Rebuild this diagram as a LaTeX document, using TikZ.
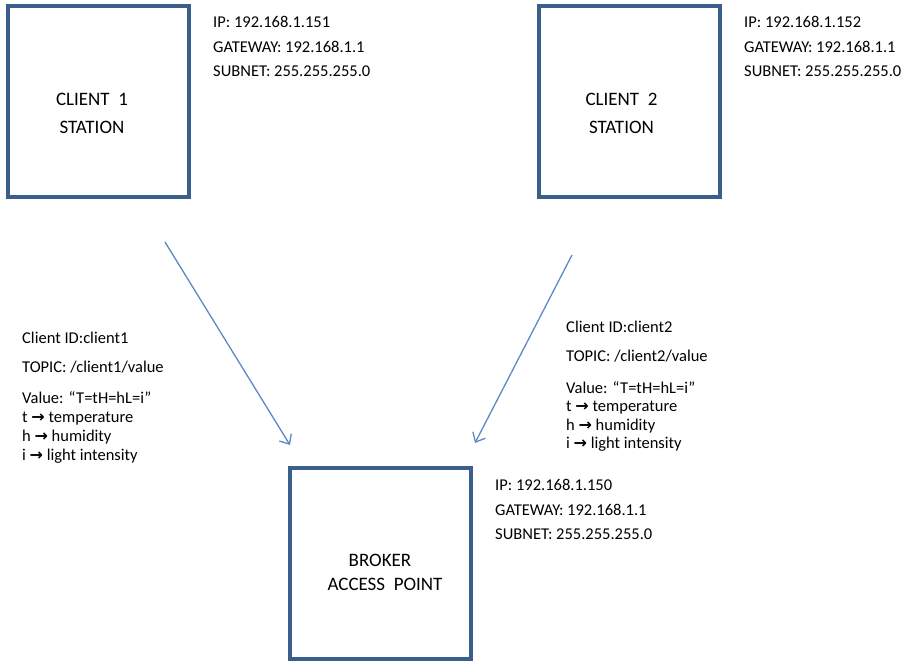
\documentclass[tikz,border=0pt]{standalone}
\usepackage{fontspec}
\setmainfont{Carlito}
\newfontfamily\arrowfont{DejaVu Sans}
\usetikzlibrary{arrows.meta}
\definecolor{boxblue}{HTML}{3A5F8B}
\definecolor{arrowblue}{HTML}{5B8AC6}
\newcommand{\ar}{{\arrowfont\bfseries\fontsize{16}{16}\selectfont →}}
\begin{document}
\begin{tikzpicture}[x=1pt,y=-1pt,
  txt/.style={anchor=base west,inner sep=0pt,font=\fontsize{16.5}{16.5}\selectfont},
  lbl/.style={anchor=base,inner sep=0pt,font=\fontsize{19}{19}\selectfont},
  station/.style={draw=boxblue,line width=3.6pt,rectangle,inner sep=0pt},
  link/.style={draw=arrowblue,line width=1.3pt,-{Straight Barb[length=8pt,width=14pt]}}]
\fill[white] (0,0) rectangle (905,661);
\useasboundingbox (0,0) rectangle (905,661);
% boxes
\node[station,minimum width=181pt,minimum height=191pt] (c1) at (98.5,101.5) {};
\node[station,minimum width=181pt,minimum height=191pt] (c2) at (629.5,101.5) {};
\node[station,minimum width=181pt,minimum height=191pt] (br) at (380.5,563.5) {};
% box labels
\node[lbl] (c1a) at (92,105) {CLIENT\ \ 1};
\node[lbl] (c1b) at (92,133) {STATION};
\node[lbl] (c2a) at (621.5,105) {CLIENT\ \ 2};
\node[lbl] (c2b) at (621.5,133) {STATION};
\node[lbl] (bra) at (380,566.5) {BROKER};
\node[lbl] (brb) at (385,590.5) {ACCESS\ \ POINT};
% network info
\node[txt] (ip1) at (213,28) {IP: 192.168.1.151};
\node[txt] (gw1) at (213,52.5) {GATEWAY: 192.168.1.1};
\node[txt] (sn1) at (213,76.5) {SUBNET: 255.255.255.0};
\node[txt] (ip2) at (744,28) {IP: 192.168.1.152};
\node[txt] (gw2) at (744,52.5) {GATEWAY: 192.168.1.1};
\node[txt] (sn2) at (744,76.5) {SUBNET: 255.255.255.0};
\node[txt] (ip3) at (495,490.5) {IP: 192.168.1.150};
\node[txt] (gw3) at (495,515) {GATEWAY: 192.168.1.1};
\node[txt] (sn3) at (495,539) {SUBNET: 255.255.255.0};
% message info client 1
\node[txt] (id1) at (22,343) {Client ID:client1};
\node[txt] (tp1) at (22,372) {TOPIC: /client1/value};
\node[txt] (v1) at (22,403) {Value: “T=tH=hL=i”};
\node[txt] (t1) at (22,422) {t \ar{} temperature};
\node[txt] (h1) at (22,441) {h \ar{} humidity};
\node[txt] (i1) at (22,460) {i \ar{} light intensity};
% message info client 2
\node[txt] (id2) at (566,332.5) {Client ID:client2};
\node[txt] (tp2) at (566,361.5) {TOPIC: /client2/value};
\node[txt] (v2) at (566,393) {Value: “T=tH=hL=i”};
\node[txt] (t2) at (566,411.5) {t \ar{} temperature};
\node[txt] (h2) at (566,430) {h \ar{} humidity};
\node[txt] (i2) at (566,448.5) {i \ar{} light intensity};
% connectors
\coordinate (s1) at (165,242);
\coordinate (e1) at (290,445);
\coordinate (s2) at (572,255);
\coordinate (e2) at (475,443);
\draw[link] (s1) -- (e1);
\draw[link] (s2) -- (e2);
\end{tikzpicture}
\end{document}
